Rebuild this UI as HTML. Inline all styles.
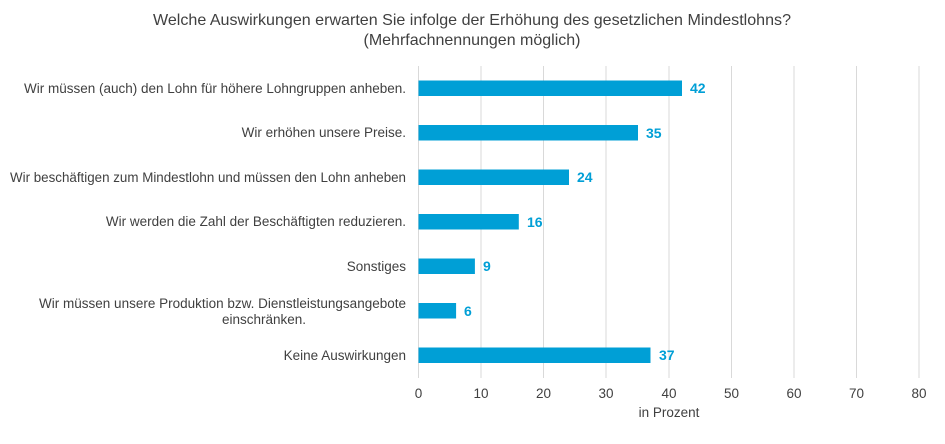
<!DOCTYPE html>
<html><head><meta charset="utf-8"><style>
body{margin:0;background:#fff;}
svg text{font-family:"Liberation Sans",Arial,sans-serif;}
</style></head><body>
<svg width="945" height="439" xmlns="http://www.w3.org/2000/svg">
<rect width="945" height="439" fill="#fff"/>
<text x="472" y="25" text-anchor="middle" font-size="16" fill="#404040" textLength="638" lengthAdjust="spacingAndGlyphs">Welche Auswirkungen  erwarten Sie infolge der Erhöhung des gesetzlichen Mindestlohns?</text>
<text x="472" y="45" text-anchor="middle" font-size="16" fill="#404040">(Mehrfachnennungen möglich)</text>
<g stroke="#d9d9d9" stroke-width="1">
<line x1="418.5" y1="66" x2="418.5" y2="378"/>
<line x1="481" y1="66" x2="481" y2="378"/>
<line x1="543.5" y1="66" x2="543.5" y2="378"/>
<line x1="606" y1="66" x2="606" y2="378"/>
<line x1="669" y1="66" x2="669" y2="378"/>
<line x1="731.5" y1="66" x2="731.5" y2="378"/>
<line x1="794" y1="66" x2="794" y2="378"/>
<line x1="856.5" y1="66" x2="856.5" y2="378"/>
<line x1="919" y1="66" x2="919" y2="378"/>
</g>
<g fill="#009fd6">
<rect x="418.5" y="80.5" width="263.5" height="15.5"/>
<rect x="418.5" y="125" width="219.5" height="15.5"/>
<rect x="418.5" y="169.5" width="150.5" height="15.5"/>
<rect x="418.5" y="214" width="100.3" height="15.5"/>
<rect x="418.5" y="258.5" width="56.4" height="15.5"/>
<rect x="418.5" y="303" width="37.6" height="15.5"/>
<rect x="418.5" y="347.5" width="232" height="15.5"/>
</g>
<g fill="#009fd6" font-size="14" font-weight="bold">
<text x="690" y="93">42</text>
<text x="646" y="138">35</text>
<text x="577" y="182">24</text>
<text x="527" y="227">16</text>
<text x="483" y="271">9</text>
<text x="464" y="316">6</text>
<text x="659" y="360">37</text>
</g>
<g fill="#404040" font-size="13.5" text-anchor="end">
<text x="406" y="93">Wir müssen (auch) den Lohn für höhere Lohngruppen anheben.</text>
<text x="406" y="137">Wir erhöhen unsere Preise.</text>
<text x="406" y="182" textLength="396" lengthAdjust="spacingAndGlyphs">Wir beschäftigen zum Mindestlohn und müssen den Lohn anheben</text>
<text x="406" y="226">Wir werden die Zahl der Beschäftigten reduzieren.</text>
<text x="406" y="271">Sonstiges</text>
<text x="406" y="308">Wir müssen unsere Produktion bzw. Dienstleistungsangebote</text>
<text x="264" y="324" text-anchor="middle">einschränken.</text>
<text x="406" y="360">Keine Auswirkungen</text>
</g>
<g fill="#404040" font-size="13.5" text-anchor="middle">
<text x="418.5" y="398">0</text>
<text x="481" y="398">10</text>
<text x="543.5" y="398">20</text>
<text x="606" y="398">30</text>
<text x="669" y="398">40</text>
<text x="731.5" y="398">50</text>
<text x="794" y="398">60</text>
<text x="856.5" y="398">70</text>
<text x="919" y="398">80</text>
<text x="669" y="417">in Prozent</text>
</g>
</svg>
</body></html>
